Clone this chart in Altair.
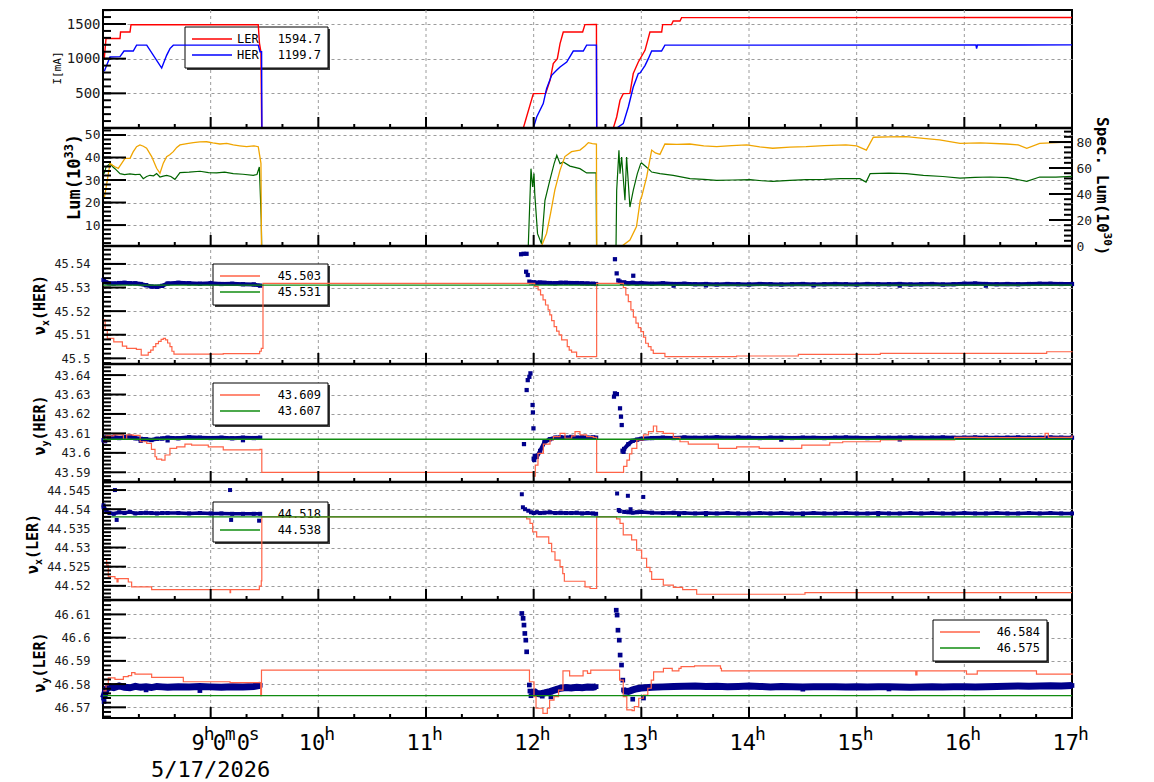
import altair as alt
import pandas as pd

FONT = "DejaVu Sans Mono"
W, PH = 969, 118
H = PH * 6
NAVY, TOMATO, REFG = "#00008b", "#ff6347", "#118c11"

DATE_LABEL = "5/17/2026"
HOURS = [9, 10, 11, 12, 13, 14, 15, 16, 17]
FIRST_LABEL = [("9", "0", "0"), ("h", "m", "s")]
MINOR_T = [8 + i / 3 for i in range(1, 27) if i % 3]

# ---------------- Panel 1 : beam currents [mA] ----------------
LER = [(8.012, 1005), (8.028, 1290), (8.158, 1290), (8.163, 1385), (8.251, 1385), (8.260, 1490),
       (9.442, 1490), (9.453, 1225), (9.467, 1095), (9.474, 0), (11.904, 0), (11.997, 496),
       (12.112, 500), (12.152, 688), (12.182, 929), (12.220, 1000), (12.245, 1217), (12.275, 1385),
       (12.455, 1385), (12.476, 1491), (12.583, 1495), (12.585, 0), (12.740, 0), (12.771, 159),
       (12.802, 400), (12.832, 496), (12.894, 500), (12.925, 785), (12.972, 952), (13.034, 1120),
       (13.080, 1385), (13.189, 1385), (13.198, 1491), (13.281, 1491), (13.296, 1543), (13.359, 1543),
       (13.374, 1592), (17.0, 1594.7)]
HER = [(8.012, 818), (8.065, 1024), (8.158, 1030), (8.195, 1110), (8.281, 1110), (8.312, 1195),
       (8.406, 1195), (8.545, 865), (8.591, 1048), (8.622, 1145), (8.653, 1195), (9.442, 1195),
       (9.458, 1100), (9.473, 1100), (9.476, 0), (11.997, 0), (12.028, 159), (12.089, 352),
       (12.120, 568), (12.167, 760), (12.213, 832), (12.245, 880), (12.307, 952), (12.368, 1110),
       (12.461, 1110), (12.492, 1195), (12.583, 1195), (12.586, 0), (12.771, 0), (12.832, 63),
       (12.879, 303), (12.925, 591), (12.972, 785), (12.988, 793), (13.034, 900), (13.065, 1000),
       (13.096, 1110), (13.188, 1110), (13.219, 1195), (16.108, 1197), (16.114, 1145), (16.122, 1197),
       (17.0, 1199.7)]
CUR_LEGEND = [("LER", 1594.7), ("HER", 1199.7)]

# ---------------- Panel 2 : luminosity ----------------
LUM = [(8.012, 21.9), (8.040, 30.0), (8.065, 37.4), (8.090, 36.5), (8.111, 35.9), (8.142, 35.2),
       (8.175, 37.5), (8.204, 39.6), (8.251, 39.6), (8.280, 42.5), (8.312, 44.8), (8.343, 45.6),
       (8.375, 45.0), (8.405, 44.1), (8.452, 40.4), (8.498, 35.2), (8.529, 33.0), (8.560, 37.5),
       (8.591, 40.4), (8.620, 41.2), (8.653, 42.6), (8.685, 44.5), (8.715, 45.6), (8.780, 46.2),
       (8.839, 46.6), (8.900, 46.9), (8.963, 47.0), (9.020, 46.5), (9.086, 46.0), (9.150, 46.3),
       (9.210, 45.6), (9.270, 45.2), (9.334, 44.8), (9.400, 45.2), (9.442, 44.8), (9.467, 37.4),
       (9.472, 0.7), (12.073, 0.7), (12.120, 6.3), (12.157, 15.2), (12.197, 25.6), (12.245, 34.4),
       (12.290, 40.4), (12.352, 42.6), (12.430, 43.3), (12.477, 45.1), (12.508, 46.6), (12.545, 46.2),
       (12.583, 46.0), (12.586, 0.7), (12.820, 0.7), (12.894, 3.3), (12.955, 9.3), (12.990, 21.1),
       (13.003, 22.6), (13.050, 31.5), (13.096, 43.3), (13.130, 42.0), (13.173, 41.4), (13.219, 46.0),
       (13.330, 45.8), (13.450, 46.0), (13.580, 45.2), (13.700, 44.8), (13.840, 45.3), (13.980, 45.6),
       (14.100, 44.7), (14.220, 44.1), (14.380, 44.6), (14.530, 44.8), (14.700, 45.3), (14.900, 45.6),
       (15.000, 45.2), (15.090, 43.3), (15.155, 49.0), (15.300, 49.2), (15.460, 49.3), (15.620, 48.5),
       (15.770, 47.8), (15.960, 46.3), (16.150, 46.5), (16.390, 46.0), (16.500, 45.6), (16.580, 44.1),
       (16.700, 46.3), (16.850, 46.6), (17.0, 47.0)]
SPEC = [(8.012, 55.7), (8.028, 60.8), (8.065, 63.4), (8.090, 61.0), (8.111, 59.5), (8.158, 55.7),
        (8.200, 55.0), (8.250, 55.5), (8.300, 55.0), (8.343, 55.2), (8.374, 51.8), (8.405, 53.5),
        (8.436, 54.4), (8.470, 54.0), (8.498, 55.7), (8.529, 53.1), (8.560, 53.8), (8.591, 54.4),
        (8.630, 53.5), (8.668, 51.3), (8.715, 56.5), (8.800, 56.8), (8.901, 57.5), (8.980, 56.5),
        (9.055, 56.2), (9.130, 56.8), (9.210, 55.7), (9.300, 55.2), (9.396, 54.4), (9.430, 55.0),
        (9.452, 60.8), (9.470, 19.8), (9.474, 0), (11.950, 0), (11.975, 59.5), (11.990, 45.4),
        (12.003, 55.7), (12.010, 40.3), (12.036, 9.5), (12.073, 1.8), (12.105, 35.2), (12.150, 50.5),
        (12.190, 63.4), (12.215, 69.8), (12.245, 63.4), (12.275, 64.6), (12.337, 61.5), (12.430, 59.5),
        (12.492, 56.2), (12.580, 56.2), (12.584, 0), (12.765, 0), (12.771, 42.8), (12.792, 73.6),
        (12.802, 55.7), (12.817, 68.5), (12.848, 35.2), (12.863, 68.5), (12.894, 30.0), (12.925, 42.8),
        (12.963, 55.7), (12.994, 63.4), (13.003, 63.8), (13.065, 59.5), (13.096, 56.9), (13.173, 55.7),
        (13.296, 54.4), (13.452, 51.8), (13.580, 51.2), (13.700, 50.5), (13.850, 50.8), (14.010, 51.0),
        (14.120, 50.2), (14.220, 49.8), (14.380, 50.5), (14.530, 51.0), (14.700, 51.2), (14.850, 51.8),
        (15.030, 51.8), (15.087, 49.2), (15.125, 55.7), (15.300, 56.0), (15.460, 55.7), (15.620, 54.4),
        (15.800, 53.5), (15.960, 52.3), (16.100, 52.8), (16.240, 53.1), (16.400, 52.6), (16.580, 49.8),
        (16.700, 53.1), (16.850, 53.0), (17.0, 53.6)]

# ---------------- tune panels ----------------
TA = [8.005, 8.03, 8.06, 8.1, 8.15, 8.2, 8.25, 8.3, 8.35, 8.4, 8.45, 8.5, 8.55, 8.6, 8.7, 8.8,
      8.9, 9.0, 9.1, 9.2, 9.3, 9.4, 9.46]
TB = [12.0, 12.03, 12.06, 12.1, 12.15, 12.2, 12.25, 12.3, 12.35, 12.4, 12.45, 12.5, 12.55, 12.58]
TC = [12.84, 12.88, 12.92, 12.96, 13.0, 13.1, 13.2, 13.3, 13.4, 13.5,
      13.6, 13.7, 13.8, 13.9, 14.0, 14.1, 14.2, 14.3, 14.4, 14.5,
      14.6, 14.7, 14.8, 14.9, 15.0, 15.1, 15.2, 15.3, 15.4, 15.5,
      15.6, 15.7, 15.8, 15.9, 16.0, 16.1, 16.2, 16.3, 16.4, 16.5,
      16.6, 16.7, 16.8, 16.9, 17.0]

# nu_x (HER)
NXH_SET = [(8.003, 45.5163), (8.020, 45.5120), (8.040, 45.5085), (8.100, 45.5070), (8.180, 45.5052),
           (8.220, 45.5042), (8.310, 45.5038), (8.355, 45.5014), (8.420, 45.5025), (8.443, 45.5035),
           (8.466, 45.5050), (8.490, 45.5062), (8.515, 45.5072), (8.540, 45.5080), (8.560, 45.5085),
           (8.580, 45.5078), (8.600, 45.5065), (8.622, 45.5050), (8.640, 45.5030), (8.659, 45.5018),
           (9.117, 45.5020), (9.455, 45.5030), (9.470, 45.5042), (9.486, 45.5318), (12.010, 45.5304),
           (12.041, 45.5290), (12.064, 45.5269), (12.087, 45.5248), (12.110, 45.5226), (12.134, 45.5205),
           (12.150, 45.5184), (12.167, 45.5160), (12.190, 45.5134), (12.213, 45.5115), (12.236, 45.5099),
           (12.260, 45.5078), (12.312, 45.5050), (12.330, 45.5035), (12.352, 45.5026), (12.399, 45.5007),
           (12.585, 45.5318), (12.833, 45.5300), (12.856, 45.5269), (12.879, 45.5240), (12.903, 45.5205),
           (12.926, 45.5175), (12.950, 45.5149), (12.972, 45.5130), (12.995, 45.5113), (13.020, 45.5090),
           (13.040, 45.5064), (13.065, 45.5050), (13.090, 45.5035), (13.111, 45.5021), (13.219, 45.5007),
           (13.885, 45.5010), (14.458, 45.5017), (15.220, 45.5021), (16.765, 45.5028), (17.0, 45.5030)]
NXH_REF = 45.531
NXH_A = [45.5332, 45.5322, 45.5318, 45.5317, 45.5319, 45.5320, 45.5318, 45.5318, 45.5315, 45.5310,
         45.5304, 45.5303, 45.5307, 45.5317, 45.5320, 45.5318, 45.5316, 45.5318, 45.5315, 45.5316,
         45.5314, 45.5313, 45.5308]
NXH_B = [45.5322, 45.5320, 45.5321, 45.5320, 45.5319, 45.5318, 45.5320, 45.5320, 45.5319, 45.5319,
         45.5318, 45.5317, 45.5316, 45.5315]
NXH_C = [45.5322, 45.5318, 45.5320, 45.5317, 45.5319, 45.5316, 45.5318, 45.5315, 45.5316, 45.5314,
         45.5315, 45.5313, 45.5315, 45.5314, 45.5313, 45.5315, 45.5314, 45.5313, 45.5314, 45.5315,
         45.5313, 45.5314, 45.5315, 45.5314, 45.5313, 45.5315, 45.5314, 45.5314, 45.5315, 45.5313,
         45.5314, 45.5315, 45.5313, 45.5314, 45.5316, 45.5317, 45.5315, 45.5314, 45.5315, 45.5314,
         45.5315, 45.5316, 45.5316, 45.5315, 45.5315]
NXH_OUT = [(11.883, 45.5441), (11.906, 45.5443), (11.934, 45.5443), (11.930, 45.5367), (11.945, 45.5353),
           (11.960, 45.5325), (11.975, 45.5322), (12.755, 45.5420), (12.771, 45.5360), (12.786, 45.5330),
           (12.800, 45.5325), (12.820, 45.5320), (12.925, 45.5350), (13.300, 45.5308), (13.600, 45.5309),
           (14.600, 45.5309), (15.400, 45.5308), (16.200, 45.5308)]

# nu_y (HER)
NYH_SET = [(8.003, 43.6057), (8.028, 43.6087), (8.100, 43.6092), (8.190, 43.6070), (8.220, 43.6092),
           (8.280, 43.6090), (8.345, 43.6057), (8.406, 43.6049), (8.450, 43.6018), (8.483, 43.5980),
           (8.498, 43.5968), (8.545, 43.5963), (8.576, 43.5989), (8.622, 43.6023), (8.684, 43.6031),
           (8.761, 43.6045), (8.823, 43.6040), (8.978, 43.6031), (9.117, 43.6015), (9.458, 43.6018),
           (9.475, 43.5900), (11.997, 43.5880), (12.015, 43.5937), (12.040, 43.5997), (12.090, 43.6045),
           (12.152, 43.6066), (12.183, 43.6083), (12.245, 43.6100), (12.291, 43.6075), (12.353, 43.6087),
           (12.384, 43.6109), (12.430, 43.6092), (12.492, 43.6083), (12.554, 43.6080), (12.585, 43.5900),
           (12.835, 43.5930), (12.866, 43.5963), (12.890, 43.5995), (12.912, 43.6023), (12.958, 43.6066),
           (13.020, 43.6092), (13.066, 43.6109), (13.112, 43.6138), (13.143, 43.6109), (13.204, 43.6100),
           (13.297, 43.6080), (13.359, 43.6057), (13.436, 43.6045), (13.715, 43.6023), (13.885, 43.6031),
           (14.095, 43.6023), (14.490, 43.6040), (14.750, 43.6052), (14.870, 43.6057), (15.220, 43.6066),
           (15.910, 43.6080), (16.120, 43.6078), (16.750, 43.6100), (16.780, 43.6080), (17.0, 43.6090)]
NYH_REF = 43.607
NYH_A = [43.6065, 43.6080, 43.6078, 43.6082, 43.6076, 43.6080, 43.6084, 43.6075, 43.6072, 43.6070,
         43.6066, 43.6072, 43.6074, 43.6078, 43.6075, 43.6080, 43.6078, 43.6076, 43.6078, 43.6075,
         43.6078, 43.6076, 43.6078]
NYH_B = [43.5970, 43.5980, 43.6010, 43.6055, 43.6070, 43.6078, 43.6080, 43.6078, 43.6082, 43.6078,
         43.6080, 43.6078, 43.6079, 43.6078]
NYH_C = [43.6020, 43.6045, 43.6062, 43.6068, 43.6072, 43.6076, 43.6078, 43.6076, 43.6079, 43.6077,
         43.6078, 43.6080, 43.6077, 43.6079, 43.6078, 43.6076, 43.6078, 43.6077, 43.6076, 43.6078,
         43.6077, 43.6076, 43.6078, 43.6079, 43.6077, 43.6076, 43.6078, 43.6077, 43.6078, 43.6079,
         43.6077, 43.6078, 43.6079, 43.6077, 43.6078, 43.6079, 43.6078, 43.6077, 43.6078, 43.6079,
         43.6078, 43.6077, 43.6079, 43.6078, 43.6078]
NYH_OUT = [(11.970, 43.6409), (11.960, 43.6391), (11.945, 43.6374), (11.935, 43.6323), (11.990, 43.6246),
           (11.993, 43.6208), (11.998, 43.6126), (11.910, 43.6045), (12.005, 43.5963), (12.010, 43.5985),
           (12.755, 43.6306), (12.773, 43.6302), (12.746, 43.6289), (12.802, 43.6229), (12.811, 43.6186),
           (12.818, 43.6143), (12.825, 43.6011), (12.835, 43.6005), (8.020, 43.6060), (8.350, 43.6062),
           (8.600, 43.6064), (9.300, 43.6065), (14.300, 43.6068), (15.400, 43.6069)]

# nu_x (LER)
NXL_SET = [(8.003, 44.5269), (8.034, 44.5254), (8.049, 44.5224), (8.111, 44.5219), (8.130, 44.5210),
           (8.140, 44.5219), (8.235, 44.5210), (8.266, 44.5197), (8.452, 44.5190), (9.180, 44.5182),
           (9.185, 44.5190), (9.452, 44.5199), (9.470, 44.5213), (9.475, 44.5380), (11.935, 44.5375),
           (11.966, 44.5363), (11.991, 44.5341), (12.028, 44.5328), (12.140, 44.5311), (12.167, 44.5289),
           (12.198, 44.5267), (12.245, 44.5250), (12.270, 44.5232), (12.285, 44.5212), (12.477, 44.5197),
           (12.524, 44.5193), (12.585, 44.5380), (12.770, 44.5375), (12.802, 44.5363), (12.832, 44.5333),
           (12.910, 44.5320), (12.956, 44.5293), (13.003, 44.5272), (13.049, 44.5248), (13.080, 44.5237),
           (13.096, 44.5217), (13.204, 44.5202), (13.297, 44.5196), (13.384, 44.5190), (13.514, 44.5178),
           (14.520, 44.5182), (17.0, 44.5182)]
NXL_REF = 44.538
NXL_A = [44.5410, 44.5395, 44.5390, 44.5388, 44.5392, 44.5390, 44.5393, 44.5389, 44.5390, 44.5391,
         44.5390, 44.5389, 44.5390, 44.5390, 44.5390, 44.5389, 44.5390, 44.5389, 44.5389, 44.5388,
         44.5388, 44.5388, 44.5388]
NXL_B = [44.5390, 44.5392, 44.5390, 44.5391, 44.5392, 44.5390, 44.5391, 44.5390, 44.5390, 44.5391,
         44.5389, 44.5390, 44.5389, 44.5388]
NXL_C = [44.5393, 44.5392, 44.5391, 44.5392, 44.5393, 44.5391, 44.5390, 44.5391, 44.5390, 44.5389,
         44.5390, 44.5389, 44.5390, 44.5389, 44.5389, 44.5390, 44.5389, 44.5390, 44.5389, 44.5389,
         44.5390, 44.5389, 44.5389, 44.5390, 44.5389, 44.5389, 44.5390, 44.5389, 44.5389, 44.5390,
         44.5389, 44.5390, 44.5389, 44.5389, 44.5390, 44.5389, 44.5389, 44.5390, 44.5389, 44.5389,
         44.5390, 44.5389, 44.5390, 44.5389, 44.5389]
NXL_OUT = [(8.111, 44.5450), (8.127, 44.5372), (9.180, 44.5450), (9.190, 44.5372), (9.450, 44.5370),
           (8.005, 44.5405), (11.890, 44.5439), (11.900, 44.5405), (11.920, 44.5400), (11.950, 44.5396),
           (11.975, 44.5392), (12.775, 44.5441), (12.790, 44.5398), (12.800, 44.5395), (12.875, 44.5435),
           (13.018, 44.5432), (12.900, 44.5400), (13.350, 44.5385), (13.600, 44.5386), (14.500, 44.5386),
           (15.200, 44.5386)]

# nu_y (LER)
NYL_SET = [(8.003, 46.5771), (8.028, 46.5796), (8.049, 46.5827), (8.111, 46.5820), (8.189, 46.5832),
           (8.235, 46.5836), (8.266, 46.5849), (8.297, 46.5843), (8.452, 46.5829), (8.746, 46.5810),
           (9.180, 46.5806), (9.465, 46.5750), (9.472, 46.5860), (11.940, 46.5860), (11.961, 46.5810),
           (12.003, 46.5746), (12.022, 46.5696), (12.086, 46.5674), (12.127, 46.5696), (12.148, 46.5731),
           (12.189, 46.5746), (12.231, 46.5774), (12.272, 46.5857), (12.334, 46.5835), (12.459, 46.5857),
           (12.500, 46.5846), (12.530, 46.5860), (12.777, 46.5860), (12.798, 46.5817), (12.832, 46.5746),
           (12.865, 46.5689), (12.914, 46.5686), (12.935, 46.5703), (12.976, 46.5739), (13.018, 46.5753),
           (13.060, 46.5782), (13.092, 46.5817), (13.114, 46.5853), (13.205, 46.5868), (13.287, 46.5857),
           (13.349, 46.5868), (13.369, 46.5875), (13.494, 46.5878), (13.735, 46.5868), (13.744, 46.5857),
           (15.549, 46.5840), (15.560, 46.5857), (16.020, 46.5843), (16.120, 46.5857), (16.670, 46.5843),
           (17.0, 46.5840)]
NYL_REF = 46.575
NYL_A = [46.5740, 46.5778, 46.5788, 46.5785, 46.5792, 46.5786, 46.5784, 46.5790, 46.5786, 46.5788,
         46.5785, 46.5790, 46.5788, 46.5786, 46.5789, 46.5787, 46.5790, 46.5788, 46.5786, 46.5789,
         46.5787, 46.5790, 46.5795]
NYL_B = [46.5770, 46.5760, 46.5758, 46.5762, 46.5768, 46.5775, 46.5782, 46.5785, 46.5783, 46.5786,
         46.5784, 46.5787, 46.5786, 46.5789]
NYL_C = [46.5770, 46.5768, 46.5775, 46.5780, 46.5783, 46.5786, 46.5788, 46.5790, 46.5791, 46.5792,
         46.5790, 46.5791, 46.5789, 46.5790, 46.5792, 46.5790, 46.5788, 46.5790, 46.5789, 46.5787,
         46.5788, 46.5789, 46.5788, 46.5787, 46.5788, 46.5787, 46.5789, 46.5788, 46.5787, 46.5786,
         46.5787, 46.5788, 46.5787, 46.5788, 46.5789, 46.5787, 46.5788, 46.5790, 46.5791, 46.5792,
         46.5791, 46.5792, 46.5793, 46.5792, 46.5794]
NYL_OUT = [(11.890, 46.6104), (11.902, 46.6083), (11.910, 46.6054), (11.918, 46.6018), (11.927, 46.5989),
           (11.935, 46.5939), (11.960, 46.5796), (11.965, 46.5770), (11.975, 46.5750), (11.990, 46.5760),
           (12.080, 46.5748), (12.160, 46.5745), (12.767, 46.6118), (12.775, 46.6097), (12.783, 46.6032),
           (12.795, 46.5989), (12.803, 46.5925), (12.816, 46.5882), (12.828, 46.5817), (12.835, 46.5775),
           (12.920, 46.5735), (13.020, 46.5740), (8.010, 46.5725), (8.400, 46.5775), (8.900, 46.5772),
           (14.500, 46.5778), (15.300, 46.5779)]

# ---------------- axes (domains and tick values) ----------------
DOM = [(0, 1702), (0.7, 53.1), (45.4976, 45.5476), (43.585, 43.6457), (44.5163, 44.5471), (46.5654, 46.6162)]
DOM_SPEC = (0, 90.8)
MAJ = [[500, 1000, 1500], [10, 20, 30, 40, 50], [45.50, 45.51, 45.52, 45.53, 45.54],
       [43.59, 43.60, 43.61, 43.62, 43.63, 43.64], [44.52, 44.525, 44.53, 44.535, 44.54, 44.545],
       [46.57, 46.58, 46.59, 46.60, 46.61]]
MIN_STEP = [100, 2, 0.002, 0.002, 0.001, 0.002]
MAJ_SPEC = [20, 40, 60, 80]
LAB_SPEC = [0, 20, 40, 60, 80]

# ---------------- helpers ----------------
DUMMY = pd.DataFrame({"d": [0]})
XS = alt.Scale(domain=[8, 17], nice=False, zero=False)


def YS(k, dom=None):
    d = dom if dom is not None else DOM[k]
    return alt.Scale(domain=list(d), range=[PH * (k + 1), PH * k], nice=False, zero=False)


def pairs_df(pairs):
    return pd.DataFrame({"t": [p[0] for p in pairs], "v": [p[1] for p in pairs]})


def X(axis=None):
    return alt.X("t:Q", scale=XS, axis=axis)


def Y(k, dom=None, axis=None):
    return alt.Y("v:Q", scale=YS(k, dom), axis=axis)


def series(pairs, k, color, width=1.2, interp="linear", dom=None):
    return alt.Chart(pairs_df(pairs)).mark_line(color=color, strokeWidth=width, interpolate=interp).encode(
        x=X(), y=Y(k, dom))


def hline(k, val, color):
    return alt.Chart(pd.DataFrame({"t": [8, 17], "v": [val, val]})).mark_line(
        color=color, strokeWidth=1.3).encode(x=X(), y=Y(k))


def navy(k, segs, out, w, sq):
    rows = []
    for i, (ts, vs) in enumerate(segs):
        for t, v in zip(ts, vs):
            rows.append({"t": t, "v": v, "s": i})
    df = pd.DataFrame(rows)
    line = alt.Chart(df).mark_line(color=NAVY, strokeWidth=w).encode(x=X(), y=Y(k), detail="s:N")
    pts = alt.Chart(pd.concat([df[["t", "v"]], pairs_df(out)])).mark_square(
        color=NAVY, size=sq, opacity=1).encode(x=X(), y=Y(k))
    return [line, pts]


def lab_axis(values, fmt, size, pad, orient="left", grid=True):
    return alt.Axis(orient=orient, values=values, format=fmt, labelFont=FONT, labelFontSize=size,
                    labelColor="#1a1a1a", labelPadding=pad, ticks=False, domain=False, grid=grid,
                    gridDash=[3, 3], gridColor="#9c9c9c", gridWidth=1, title=None,
                    labelOverlap=False, labelFlush=False)


def yticks(k, values, length, dom=None, side="left"):
    x1, x2 = (0, length) if side == "left" else (W - length, W)
    return alt.Chart(pd.DataFrame({"v": values})).mark_rule(color="black", strokeWidth=2).encode(
        y=alt.Y("v:Q", scale=YS(k, dom), axis=None), x=alt.value(x1), x2=alt.value(x2))


def xticks(k, values, length):
    b = PH * (k + 1)
    return alt.Chart(pd.DataFrame({"t": values})).mark_rule(color="black", strokeWidth=2).encode(
        x=X(), y=alt.value(b - length), y2=alt.value(b))


def text(x, y, s, size=12, bold=False, angle=0, align="center", baseline="middle", dx=0, dy=0):
    return alt.Chart(DUMMY).mark_text(text=s, font=FONT, fontSize=size, fontWeight="bold" if bold else "normal",
                                      angle=angle, align=align, baseline=baseline, dx=dx, dy=dy,
                                      color="black").encode(x=alt.value(x), y=alt.value(y))


def rect(x1, y1, x2, y2, fill, stroke=None):
    kw = dict(fill=fill)
    if stroke:
        kw.update(stroke=stroke, strokeWidth=1)
    return alt.Chart(DUMMY).mark_rect(**kw).encode(x=alt.value(x1), x2=alt.value(x2), y=alt.value(y1),
                                                   y2=alt.value(y2))


def sample(x1, x2, y, color):
    return alt.Chart(DUMMY).mark_rule(color=color, strokeWidth=1.3).encode(
        x=alt.value(x1), x2=alt.value(x2), y=alt.value(y))


def minor_vals(step, dom):
    lo, hi = dom
    vals = []
    n = int(lo / step) + 1
    while n * step <= hi:
        vals.append(round(n * step, 4))
        n += 1
    return vals


def rotated_title(x, y, parts, angle):
    """parts: list of (text, size, dy) drawn one after another along the reading direction."""
    out, off = [], 0.0
    for s, size, dy in parts:
        out.append(text(x, y, s, size, True, angle, "left", "alphabetic", dx=off, dy=dy))
        off += 0.602 * size * len(s)
    return out


# ---------------- build layers ----------------
layers = []

# vertical dashed grid (x) through all panels
layers.append(alt.Chart(pd.DataFrame({"t": HOURS[:-1]})).mark_rule(
    color="#9c9c9c", strokeWidth=1, strokeDash=[3, 3]).encode(x=X(), y=alt.value(0), y2=alt.value(H)))

# y label axes (+ horizontal grid) for every panel
label_cfg = [("d", 14, 3), ("d", 13, 3), (".3~f", 12, 13), (".3~f", 12, 13), (".3~f", 12, 13), (".3~f", 12, 13)]
for k in range(6):
    fmt, size, pad = label_cfg[k]
    layers.append(alt.Chart(pd.DataFrame({"v": MAJ[k]})).mark_point(opacity=0).encode(
        y=Y(k, axis=lab_axis(MAJ[k], fmt, size, pad)), x=alt.value(0)))
layers.append(alt.Chart(pd.DataFrame({"v": LAB_SPEC})).mark_point(opacity=0).encode(
    y=Y(1, DOM_SPEC, axis=lab_axis(LAB_SPEC, "d", 13, 4, orient="right", grid=False)), x=alt.value(W)))

# x labels: hours with superscript h, first one as 9h0m0s, date underneath
hour_df = pd.DataFrame({"t": HOURS[1:], "lab": [str(h) for h in HOURS[1:]]})
layers.append(alt.Chart(hour_df).mark_text(font=FONT, fontSize=22, align="right", baseline="alphabetic",
                                           dx=7, color="black").encode(x=X(), y=alt.value(740), text="lab:N"))
layers.append(alt.Chart(hour_df).mark_text(text="h", font=FONT, fontSize=18, align="left",
                                           baseline="alphabetic", dx=6, color="black").encode(
    x=X(), y=alt.value(730)))
first_df = pd.DataFrame({"t": [HOURS[0]]})
nums, sups = FIRST_LABEL
for s, dx, al in zip(nums, [-6, 2, 26], ["right", "left", "left"]):
    layers.append(alt.Chart(first_df).mark_text(text=s, font=FONT, fontSize=22, align=al, baseline="alphabetic",
                                                dx=dx, color="black").encode(x=X(), y=alt.value(740)))
for s, dx in zip(sups, [-7, 14, 38]):
    layers.append(alt.Chart(first_df).mark_text(text=s, font=FONT, fontSize=18, align="left",
                                                baseline="alphabetic", dx=dx, color="black").encode(
        x=X(), y=alt.value(730)))
layers.append(alt.Chart(first_df).mark_text(
    text=DATE_LABEL, font=FONT, fontSize=22, align="center", baseline="alphabetic", color="black").encode(
    x=X(), y=alt.value(767)))

# legend boxes (under the data)
LEG_BOX = {0: (82, 17, 225, 58), 2: (110, 254, 225, 295), 3: (110, 373, 225, 415),
           4: (110, 492, 225, 532), 5: (830, 610, 944, 651)}
for k, (x1, y1, x2, y2) in LEG_BOX.items():
    layers.append(rect(x1 + 2, y1 + 2, x2 + 2, y2 + 2, "#3a3a3a"))
    layers.append(rect(x1, y1, x2, y2, "white", "black"))

# legend contents
layers += [sample(89, 129, 29, "red"), sample(89, 129, 45, "blue")]
for i, (name, val) in enumerate(CUR_LEGEND):
    yy = 29 + 16 * i
    layers.append(text(134, yy, name, 12, align="left"))
    layers.append(text(218, yy, f"{val:.1f}", 12, align="right"))
TUNE_LEG = {2: (NXH_SET[-1][1], NXH_REF), 3: (NYH_SET[-1][1], NYH_REF),
            4: (NXL_SET[-1][1], NXL_REF), 5: (NYL_SET[-1][1], NYL_REF)}
for k, (sv, rv) in TUNE_LEG.items():
    x1, y1, x2, y2 = LEG_BOX[k]
    ya, yb = y1 + 12, y1 + 28
    layers += [sample(x1 + 7, x1 + 47, ya, TOMATO), sample(x1 + 7, x1 + 47, yb, REFG)]
    layers.append(text(x2 - 7, ya, f"{sv:.3f}", 12, align="right"))
    layers.append(text(x2 - 7, yb, f"{rv:.3f}", 12, align="right"))

# data
layers += [series(LER, 0, "#ff0000", 1.4), series(HER, 0, "#0000ff", 1.4)]
layers += [series(SPEC, 1, "#006400", 1.2, dom=DOM_SPEC), series(LUM, 1, "#f0a500", 1.3)]
tune = [(2, NXH_SET, NXH_REF, NXH_A, NXH_B, NXH_C, NXH_OUT, 4, 18),
        (3, NYH_SET, NYH_REF, NYH_A, NYH_B, NYH_C, NYH_OUT, 4, 18),
        (4, NXL_SET, NXL_REF, NXL_A, NXL_B, NXL_C, NXL_OUT, 3.5, 16),
        (5, NYL_SET, NYL_REF, NYL_A, NYL_B, NYL_C, NYL_OUT, 7, 22)]
for k, st, ref, a, b, c, out, w, sq in tune:
    layers += navy(k, [(TA, a), (TB, b), (TC, c)], out, w, sq)
    layers.append(series(st, k, TOMATO, 1.2, interp="step-after"))
    layers.append(hline(k, ref, REFG))

# panel separators
for k in range(1, 6):
    layers.append(alt.Chart(DUMMY).mark_rule(color="black", strokeWidth=2.5).encode(
        x=alt.value(0), x2=alt.value(W), y=alt.value(PH * k)))

# inner ticks
for k in range(6):
    layers.append(xticks(k, MINOR_T, 4))
    layers.append(xticks(k, HOURS[:-1], 11))
    layers.append(yticks(k, minor_vals(MIN_STEP[k], DOM[k]), 8))
    layers.append(yticks(k, MAJ[k], 23))
layers.append(yticks(1, minor_vals(4, DOM_SPEC), 8, dom=DOM_SPEC, side="right"))
layers.append(yticks(1, MAJ_SPEC, 23, dom=DOM_SPEC, side="right"))

# axis titles
layers.append(text(-45, 58, "I[mA]", 11, angle=270))
layers += rotated_title(-23, 210, [("Lum(10", 17, 0), ("33", 12, -7), (")", 17, 0)], 270)
layers += rotated_title(994, 107, [("Spec. Lum(10", 16, 0), ("30", 11, -7), (")", 16, 0)], 90)
NU_TITLES = [("x", "(HER)", 295, -58), ("y", "(HER)", 415.5, -58), ("x", "(LER)", 534, -65),
             ("y", "(LER)", 652.5, -58)]
for sub, ring, cy, bx in NU_TITLES:
    layers += rotated_title(bx, cy + 30.1, [("\u03bd", 15, 0), (sub, 10, 4), (ring, 15, 0)], 270)

chart = alt.layer(*layers).resolve_scale(y="independent").properties(
    width=W, height=H, autosize=alt.AutoSizeParams(type="none"),
    padding={"left": 103, "top": 10, "right": 82, "bottom": 64}
).configure_view(stroke="black", strokeWidth=2)

chart.save("out.html", embed_options={"renderer": "svg", "actions": False})
